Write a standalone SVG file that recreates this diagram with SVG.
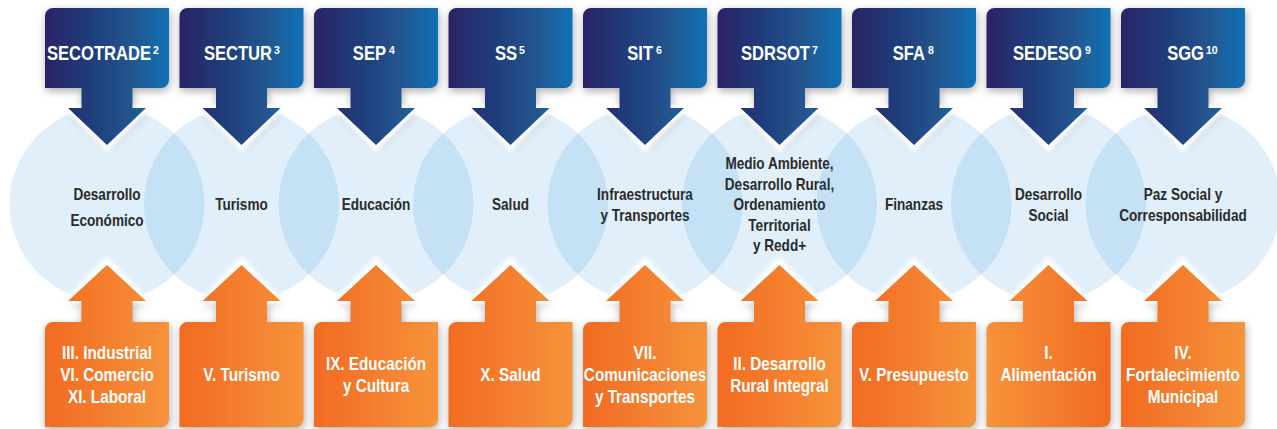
<svg xmlns="http://www.w3.org/2000/svg" xmlns:xlink="http://www.w3.org/1999/xlink" width="1277" height="429" viewBox="0 0 1277 429">
<style>
text{font-family:"Liberation Sans",Arial,sans-serif;font-weight:bold}
.top{font-size:19.5px;fill:#fff;text-anchor:end}
.sup{font-size:10.5px;fill:#fff;text-anchor:start}
.mid{font-size:16px;fill:#2b2b2b;text-anchor:middle}
.bot{font-size:18px;fill:#fff;text-anchor:middle}
.circ{fill:#0078d7;fill-opacity:0.12}
.halo{fill:#fff;filter:url(#blur)}
.shd{filter:url(#shadow)}
</style>
<defs>
<linearGradient id="gBlue" x1="0" y1="0" x2="1" y2="0">
<stop offset="0" stop-color="#2a2366"/>
<stop offset="0.4" stop-color="#1f3f7d"/>
<stop offset="0.7" stop-color="#23568f"/>
<stop offset="1" stop-color="#0f72b6"/>
</linearGradient>
<linearGradient id="gOrange" x1="0" y1="0" x2="1" y2="0">
<stop offset="0" stop-color="#f26b21"/>
<stop offset="1" stop-color="#f6933b"/>
</linearGradient>
<linearGradient id="gOrangeR" x1="0" y1="0" x2="1" y2="0">
<stop offset="0" stop-color="#f6933b"/>
<stop offset="1" stop-color="#f26b21"/>
</linearGradient>
<filter id="shadow" x="-20%" y="-20%" width="140%" height="140%">
<feGaussianBlur in="SourceAlpha" stdDeviation="4"/>
<feOffset dx="1" dy="3" result="o"/>
<feFlood flood-color="#000" flood-opacity="0.32"/>
<feComposite in2="o" operator="in"/>
</filter>
<filter id="blur" x="-20%" y="-20%" width="140%" height="140%">
<feGaussianBlur stdDeviation="2"/>
</filter>
<path id="down" d="M-62,16 A8,8 0 0 1 -54,8 L62,8 L62,80 A8,8 0 0 1 54,88 L25.5,88 L25.5,108 L39,108 L0,145 L-39,108 L-25.5,108 L-25.5,88 L-62,88 Z"/>
<path id="up" d="M0,265 L39,301 L25.5,301 L25.5,322 L62,322 L62,419 A8,8 0 0 1 54,427 L-62,427 L-62,330 A8,8 0 0 1 -54,322 L-25.5,322 L-25.5,301 L-39,301 Z"/>
<polygon id="haloDown" points="-47,105 47,105 0,153"/>
<polygon id="haloUp" points="-47,304 47,304 0,256"/>
</defs>

<g id="sectors">
<g id="sector-1"><circle class="circ" cx="107" cy="204" r="97.5"/>
<text class="mid" transform="matrix(.85 0 0 1 107 200)">Desarrollo</text><text class="mid" transform="matrix(.85 0 0 1 107 225.5)">Económico</text></g>
<g id="sector-2"><circle class="circ" cx="241.5" cy="204" r="97.5"/>
<text class="mid" transform="matrix(.85 0 0 1 241.5 210)">Turismo</text></g>
<g id="sector-3"><circle class="circ" cx="376" cy="204" r="97.5"/>
<text class="mid" transform="matrix(.85 0 0 1 376 210)">Educación</text></g>
<g id="sector-4"><circle class="circ" cx="510.5" cy="204" r="97.5"/>
<text class="mid" transform="matrix(.85 0 0 1 510.5 210)">Salud</text></g>
<g id="sector-5"><circle class="circ" cx="645" cy="204" r="97.5"/>
<text class="mid" transform="matrix(.85 0 0 1 645 199.5)">Infraestructura</text><text class="mid" transform="matrix(.85 0 0 1 645 220.5)">y Transportes</text></g>
<g id="sector-6"><circle class="circ" cx="779.5" cy="204" r="97.5"/>
<text class="mid" transform="matrix(.85 0 0 1 779.5 169)">Medio Ambiente,</text><text class="mid" transform="matrix(.85 0 0 1 779.5 189.5)">Desarrollo Rural,</text><text class="mid" transform="matrix(.85 0 0 1 779.5 210)">Ordenamiento</text><text class="mid" transform="matrix(.85 0 0 1 779.5 230.5)">Territorial</text><text class="mid" transform="matrix(.85 0 0 1 779.5 251)">y Redd+</text></g>
<g id="sector-7"><circle class="circ" cx="914" cy="204" r="97.5"/>
<text class="mid" transform="matrix(.85 0 0 1 914 210)">Finanzas</text></g>
<g id="sector-8"><circle class="circ" cx="1048.5" cy="204" r="97.5"/>
<text class="mid" transform="matrix(.85 0 0 1 1048.5 199.5)">Desarrollo</text><text class="mid" transform="matrix(.85 0 0 1 1048.5 220.5)">Social</text></g>
<g id="sector-9"><circle class="circ" cx="1183" cy="204" r="97.5"/>
<text class="mid" transform="matrix(.85 0 0 1 1183 200)">Paz Social y</text><text class="mid" transform="matrix(.85 0 0 1 1183 220.5)">Corresponsabilidad</text></g>
</g>

<g id="connectors"></g>

<g id="agencies">
<g id="agency-1" transform="translate(107,0)"><use href="#down" class="shd"/><use href="#haloDown" class="halo"/><use href="#down" fill="url(#gBlue)"/></g>
<g id="agency-2" transform="translate(241.5,0)"><use href="#down" class="shd"/><use href="#haloDown" class="halo"/><use href="#down" fill="url(#gBlue)"/></g>
<g id="agency-3" transform="translate(376,0)"><use href="#down" class="shd"/><use href="#haloDown" class="halo"/><use href="#down" fill="url(#gBlue)"/></g>
<g id="agency-4" transform="translate(510.5,0)"><use href="#down" class="shd"/><use href="#haloDown" class="halo"/><use href="#down" fill="url(#gBlue)"/></g>
<g id="agency-5" transform="translate(645,0)"><use href="#down" class="shd"/><use href="#haloDown" class="halo"/><use href="#down" fill="url(#gBlue)"/></g>
<g id="agency-6" transform="translate(779.5,0)"><use href="#down" class="shd"/><use href="#haloDown" class="halo"/><use href="#down" fill="url(#gBlue)"/></g>
<g id="agency-7" transform="translate(914,0)"><use href="#down" class="shd"/><use href="#haloDown" class="halo"/><use href="#down" fill="url(#gBlue)"/></g>
<g id="agency-8" transform="translate(1048.5,0)"><use href="#down" class="shd"/><use href="#haloDown" class="halo"/><use href="#down" fill="url(#gBlue)"/></g>
<g id="agency-9" transform="translate(1183,0)"><use href="#down" class="shd"/><use href="#haloDown" class="halo"/><use href="#down" fill="url(#gBlue)"/></g>
</g>

<g id="agency-labels">
<text class="top" transform="matrix(.85 0 0 1 151 60)">SECOTRADE</text><text class="sup" x="153" y="53.5">2</text>
<text class="top" transform="matrix(.85 0 0 1 272 60)">SECTUR</text><text class="sup" x="274" y="53.5">3</text>
<text class="top" transform="matrix(.85 0 0 1 386 60)">SEP</text><text class="sup" x="389" y="53.5">4</text>
<text class="top" transform="matrix(.85 0 0 1 517 60)">SS</text><text class="sup" x="519" y="53.5">5</text>
<text class="top" transform="matrix(.85 0 0 1 653 60)">SIT</text><text class="sup" x="656" y="53.5">6</text>
<text class="top" transform="matrix(.85 0 0 1 810 60)">SDRSOT</text><text class="sup" x="812" y="53.5">7</text>
<text class="top" transform="matrix(.85 0 0 1 925 60)">SFA</text><text class="sup" x="928" y="53.5">8</text>
<text class="top" transform="matrix(.85 0 0 1 1082 60)">SEDESO</text><text class="sup" x="1085" y="53.5">9</text>
<text class="top" transform="matrix(.85 0 0 1 1204 60)">SGG</text><text class="sup" x="1206" y="53.5">10</text>
</g>

<g id="commissions">
<g id="commission-1" transform="translate(107,0)"><use href="#up" class="shd"/><use href="#haloUp" class="halo"/><use href="#up" fill="url(#gOrange)"/>
<text class="bot" transform="matrix(.85 0 0 1 0 359)">III. Industrial</text><text class="bot" transform="matrix(.85 0 0 1 0 381)">VI. Comercio</text><text class="bot" transform="matrix(.85 0 0 1 0 403)">XI. Laboral</text></g>
<g id="commission-2" transform="translate(241.5,0)"><use href="#up" class="shd"/><use href="#haloUp" class="halo"/><use href="#up" fill="url(#gOrange)"/>
<text class="bot" transform="matrix(.85 0 0 1 0 380.5)">V. Turismo</text></g>
<g id="commission-3" transform="translate(376,0)"><use href="#up" class="shd"/><use href="#haloUp" class="halo"/><use href="#up" fill="url(#gOrange)"/>
<text class="bot" transform="matrix(.85 0 0 1 0 370)">IX. Educación</text><text class="bot" transform="matrix(.85 0 0 1 0 392)">y Cultura</text></g>
<g id="commission-4" transform="translate(510.5,0)"><use href="#up" class="shd"/><use href="#haloUp" class="halo"/><use href="#up" fill="url(#gOrange)"/>
<text class="bot" transform="matrix(.85 0 0 1 0 380.5)">X. Salud</text></g>
<g id="commission-5" transform="translate(645,0)"><use href="#up" class="shd"/><use href="#haloUp" class="halo"/><use href="#up" fill="url(#gOrange)"/>
<text class="bot" transform="matrix(.85 0 0 1 0 358.5)">VII.</text><text class="bot" transform="matrix(.85 0 0 1 0 380.5)">Comunicaciones</text><text class="bot" transform="matrix(.85 0 0 1 0 403)">y Transportes</text></g>
<g id="commission-6" transform="translate(779.5,0)"><use href="#up" class="shd"/><use href="#haloUp" class="halo"/><use href="#up" fill="url(#gOrange)"/>
<text class="bot" transform="matrix(.85 0 0 1 0 370)">II. Desarrollo</text><text class="bot" transform="matrix(.85 0 0 1 0 392)">Rural Integral</text></g>
<g id="commission-7" transform="translate(914,0)"><use href="#up" class="shd"/><use href="#haloUp" class="halo"/><use href="#up" fill="url(#gOrange)"/>
<text class="bot" transform="matrix(.85 0 0 1 0 380.5)">V. Presupuesto</text></g>
<g id="commission-8" transform="translate(1048.5,0)"><use href="#up" class="shd"/><use href="#haloUp" class="halo"/><use href="#up" fill="url(#gOrangeR)"/>
<text class="bot" transform="matrix(.85 0 0 1 0 358.5)">I.</text><text class="bot" transform="matrix(.85 0 0 1 0 380.5)">Alimentación</text></g>
<g id="commission-9" transform="translate(1183,0)"><use href="#up" class="shd"/><use href="#haloUp" class="halo"/><use href="#up" fill="url(#gOrange)"/>
<text class="bot" transform="matrix(.85 0 0 1 0 358.5)">IV.</text><text class="bot" transform="matrix(.85 0 0 1 0 380.5)">Fortalecimiento</text><text class="bot" transform="matrix(.85 0 0 1 0 403)">Municipal</text></g>
</g>
</svg>
